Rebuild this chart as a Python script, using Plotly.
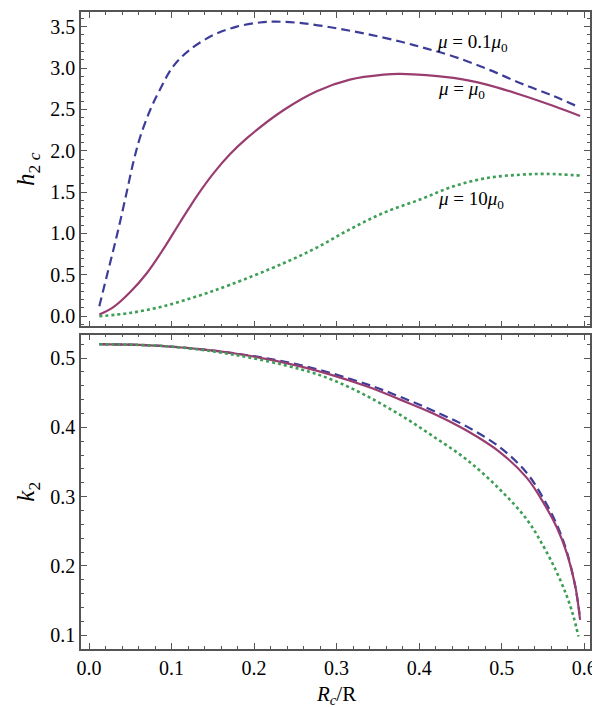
import plotly.graph_objects as go
from plotly.subplots import make_subplots

# top panel: h_2c vs Rc/R
x_h_low = [0.0125, 0.0214, 0.0295, 0.0376, 0.0457, 0.0537, 0.0618, 0.074, 0.086, 0.102, 0.122,
           0.151, 0.179, 0.207, 0.2275, 0.26, 0.300, 0.337, 0.377, 0.407, 0.4416, 0.482, 0.522,
           0.563, 0.593]
h_low = [0.12, 0.48, 0.80, 1.14, 1.50, 1.86, 2.16, 2.49, 2.74, 3.02, 3.22,
         3.40, 3.50, 3.55, 3.56, 3.54, 3.48, 3.41, 3.32, 3.24, 3.14, 2.99, 2.82,
         2.66, 2.53]

x_h_mid = [0.0125, 0.0295, 0.0497, 0.070, 0.090, 0.110, 0.1305, 0.151, 0.171, 0.191, 0.2355,
           0.276, 0.316, 0.357, 0.377, 0.4416, 0.482, 0.522, 0.563, 0.595]
h_mid = [0.02, 0.11, 0.29, 0.52, 0.81, 1.13, 1.45, 1.73, 1.96, 2.15, 2.49,
         2.72, 2.86, 2.92, 2.93, 2.88, 2.80, 2.68, 2.54, 2.42]

x_h_high = [0.0125, 0.0497, 0.090, 0.1305, 0.171, 0.2355, 0.276, 0.316, 0.357, 0.401, 0.4416,
            0.482, 0.522, 0.555, 0.595]
h_high = [0.0, 0.04, 0.12, 0.24, 0.38, 0.64, 0.83, 1.05, 1.25, 1.41, 1.57,
          1.67, 1.71, 1.72, 1.70]

# bottom panel: k2 vs Rc/R
x_k_low = [0.0125, 0.094, 0.175, 0.256, 0.337, 0.377, 0.417, 0.458, 0.498, 0.5305, 0.5507,
           0.567, 0.579, 0.589, 0.5944]
k_low = [0.520, 0.517, 0.507, 0.490, 0.462, 0.444, 0.424, 0.401, 0.371, 0.334, 0.297,
         0.259, 0.220, 0.171, 0.130]

x_k_mid = [0.0125, 0.094, 0.175, 0.256, 0.337, 0.377, 0.417, 0.458, 0.498, 0.5305, 0.5507,
           0.567, 0.579, 0.589, 0.595]
k_mid = [0.520, 0.517, 0.507, 0.488, 0.459, 0.440, 0.420, 0.395, 0.364, 0.327, 0.291,
         0.255, 0.218, 0.172, 0.122]

x_k_high = [0.0125, 0.094, 0.175, 0.256, 0.296, 0.337, 0.377, 0.417, 0.458, 0.498, 0.5305,
            0.5507, 0.567, 0.579, 0.587, 0.593]
k_high = [0.520, 0.517, 0.505, 0.484, 0.468, 0.445, 0.418, 0.387, 0.353, 0.310, 0.267,
          0.228, 0.190, 0.156, 0.127, 0.098]

labels = ["<i>μ</i> = 0.1<i>μ</i><sub>0</sub>", "<i>μ</i> = <i>μ</i><sub>0</sub>",
          "<i>μ</i> = 10<i>μ</i><sub>0</sub>"]
label_pos = [(0.419, 3.30), (0.420, 2.74), (0.420, 1.41)]

blue = "rgb(61,61,153)"
purple = "rgb(153,61,112)"
green = "rgb(61,158,85)"
font = "Liberation Serif, Times New Roman, DejaVu Serif, serif"

fig = make_subplots(rows=2, cols=1, shared_xaxes=False, vertical_spacing=0.0126)

styles = [(blue, "9px,5px", 2.2), (purple, "solid", 2.2), (green, "dot", 2.6)]
tops = [(x_h_low, h_low), (x_h_mid, h_mid), (x_h_high, h_high)]
bots = [(x_k_low, k_low), (x_k_mid, k_mid), (x_k_high, k_high)]

for (c, d, w), (xs, ys) in zip(styles, tops):
    fig.add_trace(go.Scatter(x=xs, y=ys, mode="lines",
                             line=dict(color=c, dash=d, width=w, shape="spline", smoothing=1.0)),
                  row=1, col=1)
for (c, d, w), (xs, ys) in zip(styles, bots):
    fig.add_trace(go.Scatter(x=xs, y=ys, mode="lines",
                             line=dict(color=c, dash=d, width=w, shape="spline", smoothing=1.0)),
                  row=2, col=1)

for txt, (lx, ly) in zip(labels, label_pos):
    fig.add_annotation(x=lx, y=ly, xref="x", yref="y", text=txt, showarrow=False,
                       xanchor="left", yanchor="middle",
                       font=dict(family=font, size=19, color="black"))

# x axis title placed by hand (axis title sits too low with automargin off)
fig.add_annotation(x=0.5, y=-0.072, xref="paper", yref="paper", text="<i>R<sub>c</sub></i>/R",
                   showarrow=False, xanchor="center", yanchor="middle",
                   font=dict(family=font, size=21, color="black"))

axis_common = dict(showgrid=False, zeroline=False, showline=True, linecolor="#555", linewidth=1.5,
                   mirror="allticks", ticks="inside", ticklen=6, tickwidth=1, tickcolor="#555",
                   automargin=False,
                   tickfont=dict(family=font, size=20, color="black"),
                   minor=dict(ticks="inside", ticklen=3, tickcolor="#555", nticks=5))

fig.update_xaxes(**axis_common, range=[-0.0097, 0.607], dtick=0.1, tickformat=".1f")
fig.update_xaxes(showticklabels=False, row=1, col=1)
fig.update_yaxes(**axis_common)
fig.update_yaxes(range=[-0.124, 3.677], dtick=0.5, tickformat=".1f",
                 title=dict(text="<i>h</i><sub>2 <i>c</i></sub>",
                            font=dict(family=font, size=25, color="black"), standoff=8),
                 row=1, col=1)
fig.update_yaxes(range=[0.080, 0.534], dtick=0.1, tickformat=".1f",
                 title=dict(text="<i>k</i><sub>2</sub>",
                            font=dict(family=font, size=25, color="black"), standoff=8),
                 row=2, col=1)

# page body has an 8px margin, so the figure is sized/offset to land on the reference frame
fig.update_layout(width=592, height=699, showlegend=False, plot_bgcolor="white",
                  paper_bgcolor="white", margin=dict(l=73, r=10, t=4, b=58))

fig.write_html("out.html")
